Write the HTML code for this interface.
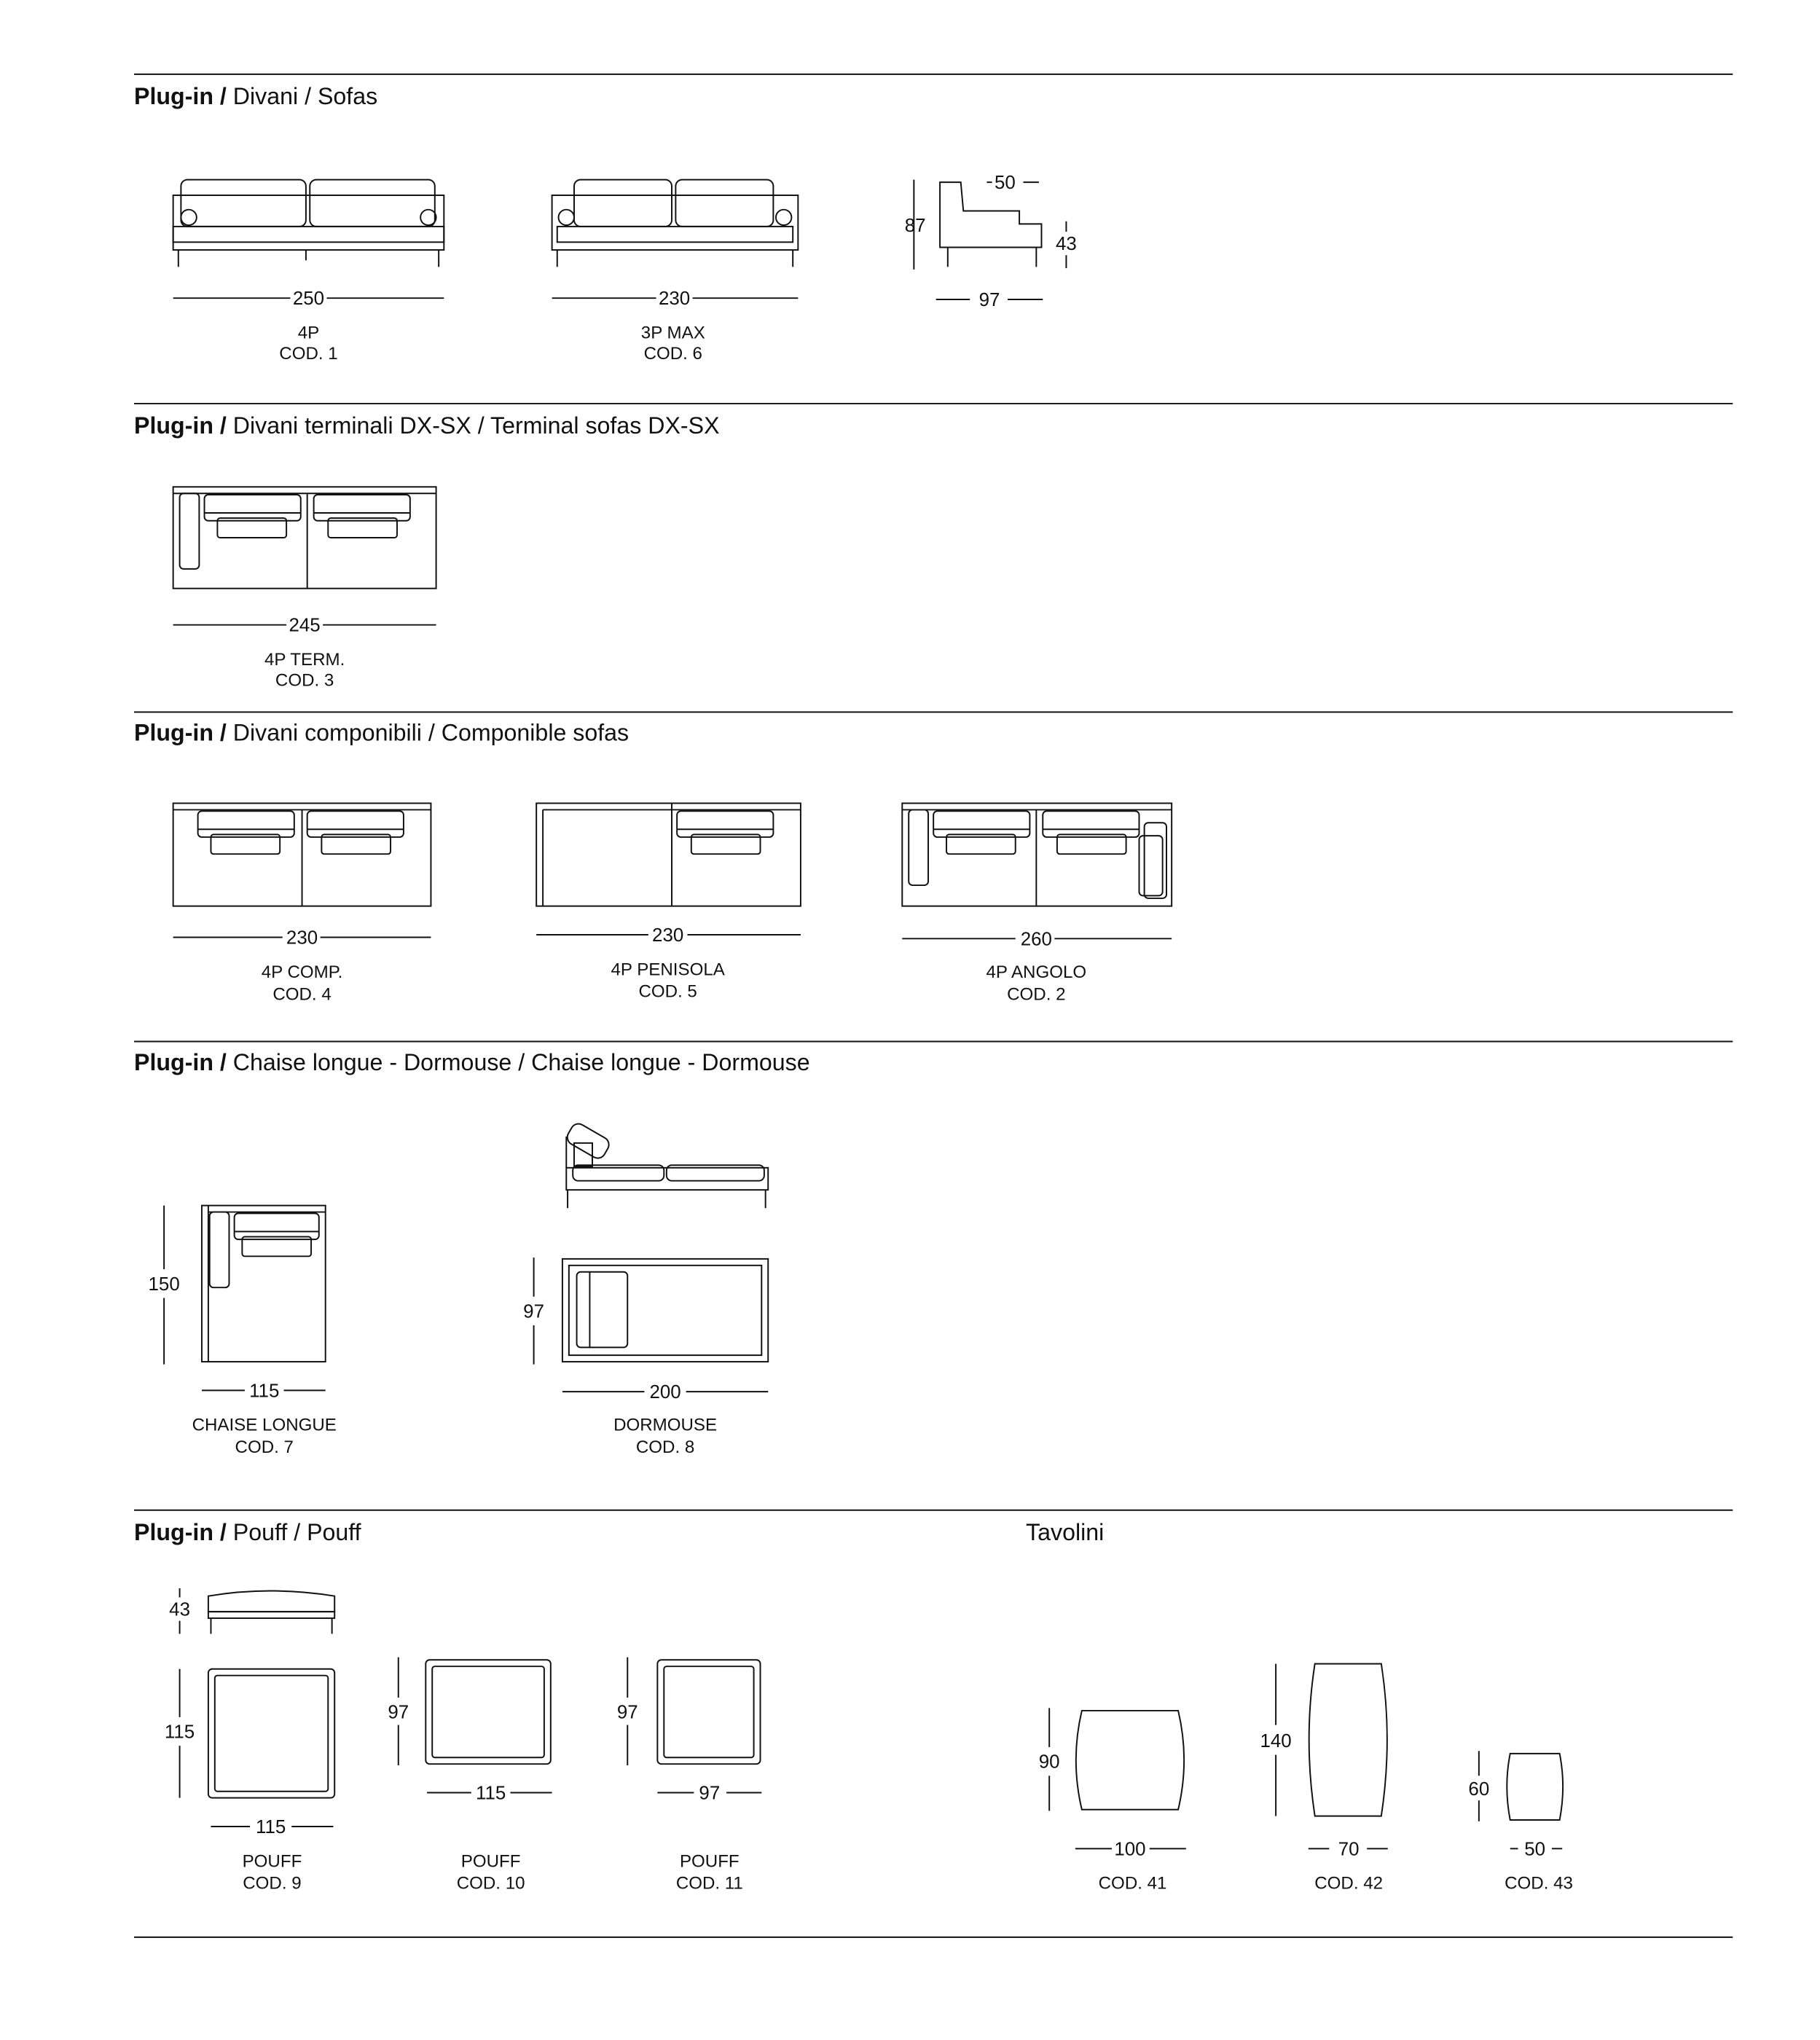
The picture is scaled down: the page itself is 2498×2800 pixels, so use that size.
<!DOCTYPE html>
<html><head><meta charset="utf-8"><style>
html,body{margin:0;padding:0;background:#fff;}
svg{display:block;}
text{font-family:"Liberation Sans",sans-serif;fill:#111;}
.h{font-size:18px;}
.b{font-weight:bold;}
.l{font-size:13.5px;text-anchor:middle;}
.d{font-size:14.5px;text-anchor:middle;}
</style></head><body>
<svg width="2498" height="2800" viewBox="0 0 1398 1567" preserveAspectRatio="none" xmlns="http://www.w3.org/2000/svg">
<g stroke="#111" stroke-width="1.1" fill="none">
<line x1="103" y1="57" x2="1331" y2="57"/>
<line x1="103" y1="310" x2="1331" y2="310"/>
<line x1="103" y1="547" x2="1331" y2="547"/>
<line x1="103" y1="800" x2="1331" y2="800"/>
<line x1="103" y1="1160" x2="1331" y2="1160"/>
<line x1="103" y1="1488" x2="1331" y2="1488"/>

<rect x="133" y="150" width="208" height="42"/>
<rect x="139" y="138" width="96" height="36" rx="5"/>
<rect x="238" y="138" width="96" height="36" rx="5"/>
<rect x="133" y="174" width="208" height="12"/>
<circle cx="145" cy="167" r="6"/><circle cx="329" cy="167" r="6"/>
<line x1="137" y1="192" x2="137" y2="205"/><line x1="337" y1="192" x2="337" y2="205"/>
<line x1="235" y1="192" x2="235" y2="200"/>
<rect x="424" y="150" width="189" height="42"/>
<rect x="441" y="138" width="75" height="36" rx="5"/>
<rect x="519" y="138" width="75" height="36" rx="5"/>
<rect x="428" y="174" width="181" height="12"/>
<circle cx="435" cy="167" r="6"/><circle cx="602" cy="167" r="6"/>
<line x1="428" y1="192" x2="428" y2="205"/><line x1="609" y1="192" x2="609" y2="205"/>
<path d="M722 140 L738 140 L740 162 L783 162 L783 172 L800 172 L800 190 L722 190 Z"/>
<line x1="728" y1="190" x2="728" y2="205"/><line x1="796" y1="190" x2="796" y2="205"/>
<line x1="702" y1="138" x2="702" y2="207"/>
<line x1="762" y1="140" x2="758" y2="140"/><line x1="786" y1="140" x2="798" y2="140"/>
<line x1="819" y1="170" x2="819" y2="178"/><line x1="819" y1="196" x2="819" y2="206"/>
<line x1="719" y1="230" x2="745" y2="230"/><line x1="774" y1="230" x2="801" y2="230"/>
<line x1="133" y1="229" x2="223" y2="229"/><line x1="251" y1="229" x2="341" y2="229"/>
<line x1="424" y1="229" x2="504" y2="229"/><line x1="532" y1="229" x2="613" y2="229"/>

<rect x="133" y="374" width="202" height="78"/>
<line x1="133" y1="379" x2="335" y2="379"/>
<line x1="236" y1="379" x2="236" y2="452"/>
<rect x="138" y="379" width="15" height="58" rx="3"/>
<rect x="157" y="380" width="74" height="20" rx="3"/><line x1="157" y1="394" x2="231" y2="394"/>
<rect x="167" y="398" width="53" height="15" rx="2"/>
<rect x="241" y="380" width="74" height="20" rx="3"/><line x1="241" y1="394" x2="315" y2="394"/>
<rect x="252" y="398" width="53" height="15" rx="2"/>
<line x1="133" y1="480" x2="220" y2="480"/><line x1="248" y1="480" x2="335" y2="480"/>

<rect x="133" y="617" width="198" height="79"/><line x1="133" y1="622" x2="331" y2="622"/>
<line x1="232" y1="622" x2="232" y2="696"/>
<rect x="152" y="623" width="74" height="20" rx="3"/><line x1="152" y1="637" x2="226" y2="637"/>
<rect x="162" y="641" width="53" height="15" rx="2"/>
<rect x="236" y="623" width="74" height="20" rx="3"/><line x1="236" y1="637" x2="310" y2="637"/>
<rect x="247" y="641" width="53" height="15" rx="2"/>
<line x1="133" y1="720" x2="217" y2="720"/><line x1="246" y1="720" x2="331" y2="720"/>
<rect x="412" y="617" width="203" height="79"/><line x1="417" y1="622" x2="615" y2="622"/>
<line x1="417" y1="622" x2="417" y2="696"/>
<line x1="516" y1="617" x2="516" y2="696"/>
<rect x="520" y="623" width="74" height="20" rx="3"/><line x1="520" y1="637" x2="594" y2="637"/>
<rect x="531" y="641" width="53" height="15" rx="2"/>
<line x1="412" y1="718" x2="498" y2="718"/><line x1="528" y1="718" x2="615" y2="718"/>
<rect x="693" y="617" width="207" height="79"/><line x1="693" y1="622" x2="900" y2="622"/>
<line x1="796" y1="622" x2="796" y2="696"/>
<rect x="698" y="622" width="15" height="58" rx="3"/>
<rect x="717" y="623" width="74" height="20" rx="3"/><line x1="717" y1="637" x2="791" y2="637"/>
<rect x="727" y="641" width="53" height="15" rx="2"/>
<rect x="801" y="623" width="74" height="20" rx="3"/><line x1="801" y1="637" x2="875" y2="637"/>
<rect x="812" y="641" width="53" height="15" rx="2"/>
<rect x="879" y="632" width="17" height="58" rx="3"/><rect x="875" y="642" width="18" height="46" rx="3"/>
<line x1="693" y1="721" x2="780" y2="721"/><line x1="810" y1="721" x2="900" y2="721"/>

<rect x="155" y="926" width="95" height="120"/><line x1="160" y1="926" x2="160" y2="1046"/>
<line x1="160" y1="931" x2="250" y2="931"/>
<rect x="161" y="931" width="15" height="58" rx="3"/>
<rect x="180" y="932" width="65" height="20" rx="3"/><line x1="180" y1="946" x2="245" y2="946"/>
<rect x="186" y="950" width="53" height="15" rx="2"/>
<line x1="126" y1="926" x2="126" y2="975"/><line x1="126" y1="997" x2="126" y2="1048"/>
<line x1="155" y1="1068" x2="188" y2="1068"/><line x1="218" y1="1068" x2="250" y2="1068"/>
<rect x="435" y="897" width="155" height="17"/>
<rect x="440" y="895" width="70" height="12" rx="4"/><rect x="512" y="895" width="75" height="12" rx="4"/>
<line x1="435" y1="873" x2="435" y2="897"/>
<rect x="436" y="868" width="32" height="17" rx="6" transform="rotate(30 452 876)"/>
<rect x="441" y="878" width="14" height="18"/>
<line x1="436" y1="914" x2="436" y2="928"/><line x1="588" y1="914" x2="588" y2="928"/>
<rect x="432" y="967" width="158" height="79"/><rect x="437" y="972" width="148" height="69"/>
<rect x="443" y="977" width="39" height="58" rx="3"/><line x1="453" y1="977" x2="453" y2="1035"/>
<line x1="410" y1="966" x2="410" y2="996"/><line x1="410" y1="1018" x2="410" y2="1048"/>
<line x1="432" y1="1069" x2="495" y2="1069"/><line x1="527" y1="1069" x2="590" y2="1069"/>

<path d="M160 1238 L160 1226 Q208 1218 257 1226 L257 1238 Z"/>
<rect x="160" y="1238" width="97" height="5"/>
<line x1="162" y1="1243" x2="162" y2="1255"/><line x1="255" y1="1243" x2="255" y2="1255"/>
<line x1="138" y1="1220" x2="138" y2="1227"/><line x1="138" y1="1245" x2="138" y2="1255"/>
<rect x="160" y="1282" width="97" height="99" rx="3"/><rect x="165" y="1287" width="87" height="89" rx="2"/>
<line x1="138" y1="1282" x2="138" y2="1319"/><line x1="138" y1="1341" x2="138" y2="1381"/>
<line x1="162" y1="1403" x2="192" y2="1403"/><line x1="224" y1="1403" x2="256" y2="1403"/>
<rect x="327" y="1275" width="96" height="80" rx="3"/><rect x="332" y="1280" width="86" height="70" rx="2"/>
<line x1="306" y1="1273" x2="306" y2="1304"/><line x1="306" y1="1325" x2="306" y2="1356"/>
<line x1="328" y1="1377" x2="362" y2="1377"/><line x1="392" y1="1377" x2="424" y2="1377"/>
<rect x="505" y="1275" width="79" height="80" rx="3"/><rect x="510" y="1280" width="69" height="70" rx="2"/>
<line x1="482" y1="1273" x2="482" y2="1304"/><line x1="482" y1="1325" x2="482" y2="1356"/>
<line x1="505" y1="1377" x2="533" y2="1377"/><line x1="558" y1="1377" x2="585" y2="1377"/>

<path d="M831 1314 L905 1314 Q914 1352 905 1390 L831 1390 Q822 1352 831 1314 Z"/>
<line x1="806" y1="1312" x2="806" y2="1342"/><line x1="806" y1="1364" x2="806" y2="1391"/>
<line x1="826" y1="1420" x2="854" y2="1420"/><line x1="883" y1="1420" x2="911" y2="1420"/>
<path d="M1010 1278 L1061 1278 Q1070 1336 1061 1395 L1010 1395 Q1001 1336 1010 1278 Z"/>
<line x1="980" y1="1278" x2="980" y2="1325"/><line x1="980" y1="1348" x2="980" y2="1395"/>
<line x1="1005" y1="1420" x2="1021" y2="1420"/><line x1="1050" y1="1420" x2="1066" y2="1420"/>
<path d="M1160 1347 L1198 1347 Q1203 1372 1198 1398 L1160 1398 Q1155 1372 1160 1347 Z"/>
<line x1="1136" y1="1345" x2="1136" y2="1364"/><line x1="1136" y1="1383" x2="1136" y2="1399"/>
<line x1="1160" y1="1420" x2="1166" y2="1420"/><line x1="1192" y1="1420" x2="1200" y2="1420"/>
</g>

<text class="h" x="103" y="80"><tspan class="b">Plug-in /</tspan> Divani  / Sofas</text>
<text class="h" x="103" y="333"><tspan class="b">Plug-in  /</tspan> Divani terminali DX-SX  / Terminal sofas DX-SX</text>
<text class="h" x="103" y="569"><tspan class="b">Plug-in  /</tspan> Divani componibili / Componible sofas</text>
<text class="h" x="103" y="822"><tspan class="b">Plug-in /</tspan> Chaise longue - Dormouse / Chaise longue - Dormouse</text>
<text class="h" x="103" y="1183"><tspan class="b">Plug-in  /</tspan> Pouff  / Pouff</text>
<text class="h" x="788" y="1183">Tavolini</text>

<text class="d" x="237" y="234">250</text>
<text class="l" x="237" y="260">4P</text><text class="l" x="237" y="276">COD. 1</text>
<text class="d" x="518" y="234">230</text>
<text class="l" x="517" y="260">3P MAX</text><text class="l" x="517" y="276">COD. 6</text>
<text class="d" x="703" y="178">87</text>
<text class="d" x="772" y="145">50</text>
<text class="d" x="819" y="192">43</text>
<text class="d" x="760" y="235">97</text>

<text class="d" x="234" y="485">245</text>
<text class="l" x="234" y="511">4P TERM.</text><text class="l" x="234" y="527">COD. 3</text>

<text class="d" x="232" y="725">230</text>
<text class="l" x="232" y="751">4P COMP.</text><text class="l" x="232" y="768">COD. 4</text>
<text class="d" x="513" y="723">230</text>
<text class="l" x="513" y="749">4P PENISOLA</text><text class="l" x="513" y="766">COD. 5</text>
<text class="d" x="796" y="726">260</text>
<text class="l" x="796" y="751">4P ANGOLO</text><text class="l" x="796" y="768">COD. 2</text>

<text class="d" x="126" y="991">150</text>
<text class="d" x="203" y="1073">115</text>
<text class="l" x="203" y="1099">CHAISE LONGUE</text><text class="l" x="203" y="1116">COD. 7</text>
<text class="d" x="410" y="1012">97</text>
<text class="d" x="511" y="1074">200</text>
<text class="l" x="511" y="1099">DORMOUSE</text><text class="l" x="511" y="1116">COD. 8</text>

<text class="d" x="138" y="1241">43</text>
<text class="d" x="138" y="1335">115</text>
<text class="d" x="208" y="1408">115</text>
<text class="l" x="209" y="1434">POUFF</text><text class="l" x="209" y="1451">COD. 9</text>
<text class="d" x="306" y="1320">97</text>
<text class="d" x="377" y="1382">115</text>
<text class="l" x="377" y="1434">POUFF</text><text class="l" x="377" y="1451">COD. 10</text>
<text class="d" x="482" y="1320">97</text>
<text class="d" x="545" y="1382">97</text>
<text class="l" x="545" y="1434">POUFF</text><text class="l" x="545" y="1451">COD. 11</text>

<text class="d" x="806" y="1358">90</text>
<text class="d" x="868" y="1425">100</text>
<text class="l" x="870" y="1451">COD. 41</text>
<text class="d" x="980" y="1342">140</text>
<text class="d" x="1036" y="1425">70</text>
<text class="l" x="1036" y="1451">COD. 42</text>
<text class="d" x="1136" y="1379">60</text>
<text class="d" x="1179" y="1425">50</text>
<text class="l" x="1182" y="1451">COD. 43</text>
</svg>
</body></html>
